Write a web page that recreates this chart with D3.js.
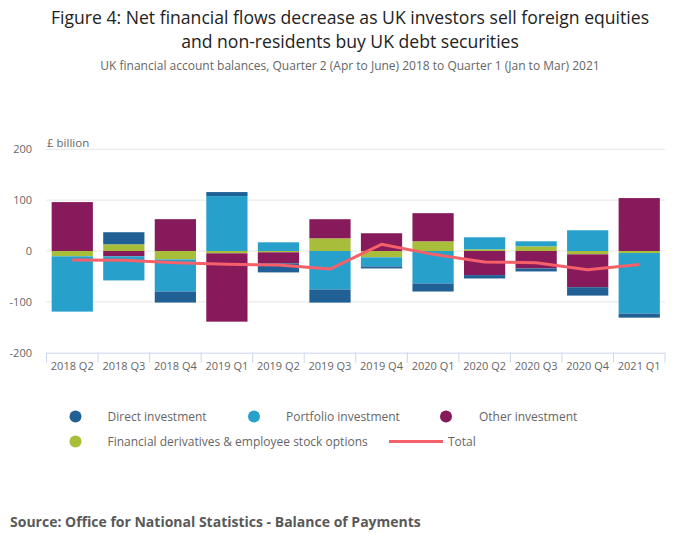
<!DOCTYPE html>
<html><head><meta charset="utf-8">
<script src="https://cdn.jsdelivr.net/npm/d3@7"></script>
<style>
body{margin:0;background:#fff;}
svg{display:block;font-family:"Open Sans",sans-serif;}
</style></head>
<body>
<svg id="c" width="700" height="549"></svg>
<script>
const categories = ["2018 Q2","2018 Q3","2018 Q4","2019 Q1","2019 Q2","2019 Q3","2019 Q4","2020 Q1","2020 Q2","2020 Q3","2020 Q4","2021 Q1"];
const directInvestment    = [0, 23.7, -21.7, 7.9, -17.8, -25.7, -4, -15.8, -6.6, -5.9, -16.5, -7.9];
const portfolioInvestment = [-108.7, -47.4, -63.2, 108, 17.1, -75.8, -17.8, -63.9, 23.7, 9.9, 40.8, -119.2];
const otherInvestment     = [96.2, -10.5, 62.6, -134.4, -21.7, 37.5, 34.9, 55.3, -47.4, -34.3, -64.6, 104.1];
const derivatives         = [-10.5, 13.2, -16.5, -4.6, -2.6, 25, -12.5, 19.1, 3.3, 9.2, -6.6, -4];
const total               = [-17.8, -18.4, -23, -26, -27.7, -35.6, 13.2, -6.6, -21.7, -23, -36.9, -26.4];
const yTicks = [-200, -100, 0, 100, 200];

const seriesNames = ["Direct investment","Portfolio investment","Other investment","Financial derivatives & employee stock options"];
const seriesValues = [directInvestment, portfolioInvestment, otherInvestment, derivatives];
const colors = ["#206095","#27a0cc","#871a5b","#a8bd3a"];
const totalColor = "#f66068";

(function(){
const svg = d3.select("#c");
const pLeft = 46.5, pRight = 665, pTop = 149.3, pBottom = 352.7;

const x = d3.scaleBand().domain(categories).range([pLeft, pRight]).paddingInner(0.2).paddingOuter(0.1);
const y = d3.scaleLinear().domain([-200, 200]).range([pBottom, pTop]);

// Title
svg.append("text").attr("x",350).attr("y",23.5).attr("text-anchor","middle").attr("font-size",17.6).attr("fill","#222")
  .text("Figure 4: Net financial flows decrease as UK investors sell foreign equities");
svg.append("text").attr("x",350).attr("y",47.5).attr("text-anchor","middle").attr("font-size",17.6).attr("fill","#222")
  .text("and non-residents buy UK debt securities");
svg.append("text").attr("x",350).attr("y",69.5).attr("text-anchor","middle").attr("font-size",12).attr("fill","#666")
  .text("UK financial account balances, Quarter 2 (Apr to June) 2018 to Quarter 1 (Jan to Mar) 2021");

// gridlines
svg.append("g").selectAll("line").data(yTicks.filter(d=>d>-200)).join("line")
  .attr("x1",pLeft).attr("x2",pRight).attr("y1",d=>y(d)).attr("y2",d=>y(d))
  .attr("stroke","#e6e6e6").attr("stroke-width",1);

// y labels
svg.append("g").selectAll("text").data(yTicks).join("text")
  .attr("x",32).attr("y",d=>y(d)).attr("dy","0.35em").attr("text-anchor","end")
  .attr("font-size",11).attr("fill","#666").text(d=>d);
svg.append("text").attr("x",47).attr("y",147).attr("font-size",11.5).attr("fill","#666").text("£ billion");

// stacks: order from zero: derivatives, other, portfolio, direct
const rows = categories.map((c,i)=>{const o={cat:c}; seriesNames.forEach((s,j)=>o[s]=seriesValues[j][i]); return o;});
const stackKeys = [seriesNames[3], seriesNames[2], seriesNames[1], seriesNames[0]];
const stack = d3.stack().keys(stackKeys).offset(d3.stackOffsetDiverging)(rows);

svg.append("g").selectAll("g").data(stack).join("g")
  .attr("fill", d=>colors[seriesNames.indexOf(d.key)])
  .selectAll("rect").data(d=>d).join("rect")
  .attr("x", d=>x(d.data.cat)).attr("width", x.bandwidth())
  .attr("y", d=>y(Math.max(d[0],d[1]))).attr("height", d=>Math.abs(y(d[0])-y(d[1])));

// x axis
const xAxis = d3.axisBottom(x).tickSize(0).tickPadding(10);
const gx = svg.append("g").attr("transform",`translate(0,${pBottom})`).call(xAxis);
gx.select(".domain").attr("stroke","#ccd6eb");
gx.selectAll("text").attr("font-size",11).attr("fill","#666").attr("font-family","Open Sans");
const bounds = categories.map(c=>x(c)-x.step()*x.paddingInner()/2).concat([pRight]);
svg.append("g").selectAll("line").data(bounds).join("line")
  .attr("x1",d=>d).attr("x2",d=>d).attr("y1",pBottom).attr("y2",pBottom+10)
  .attr("stroke","#ccd6eb").attr("stroke-width",1);

// total line
const line = d3.line().x((d,i)=>x(categories[i])+x.bandwidth()/2).y(d=>y(d));
svg.append("path").datum(total).attr("d",line).attr("fill","none")
  .attr("stroke",totalColor).attr("stroke-width",3).attr("stroke-linejoin","round");

// legend
const legendItems = [
  {name:seriesNames[0], color:colors[0], cx:75.5, tx:107.5, y:416.5, type:"circle"},
  {name:seriesNames[1], color:colors[1], cx:254, tx:286, y:416.5, type:"circle"},
  {name:seriesNames[2], color:colors[2], cx:446, tx:479, y:416.5, type:"circle"},
  {name:seriesNames[3], color:colors[3], cx:75.5, tx:107.5, y:441.5, type:"circle"},
  {name:"Total", color:totalColor, cx:389, tx:448, y:441.5, type:"line"}
];
const lg = svg.append("g");
legendItems.forEach(it=>{
  if(it.type==="circle"){
    lg.append("circle").attr("cx",it.cx).attr("cy",it.y).attr("r",6).attr("fill",it.color);
  } else {
    lg.append("line").attr("x1",it.cx).attr("x2",it.cx+54).attr("y1",it.y).attr("y2",it.y)
      .attr("stroke",it.color).attr("stroke-width",3);
  }
  lg.append("text").attr("x",it.tx).attr("y",it.y).attr("dy","0.35em").attr("font-size",12).attr("fill","#666").text(it.name);
});

svg.append("text").attr("x",10).attr("y",527).attr("font-size",14).attr("font-weight","bold").attr("fill","#595959")
  .text("Source: Office for National Statistics - Balance of Payments");
})();
</script>
</body></html>
